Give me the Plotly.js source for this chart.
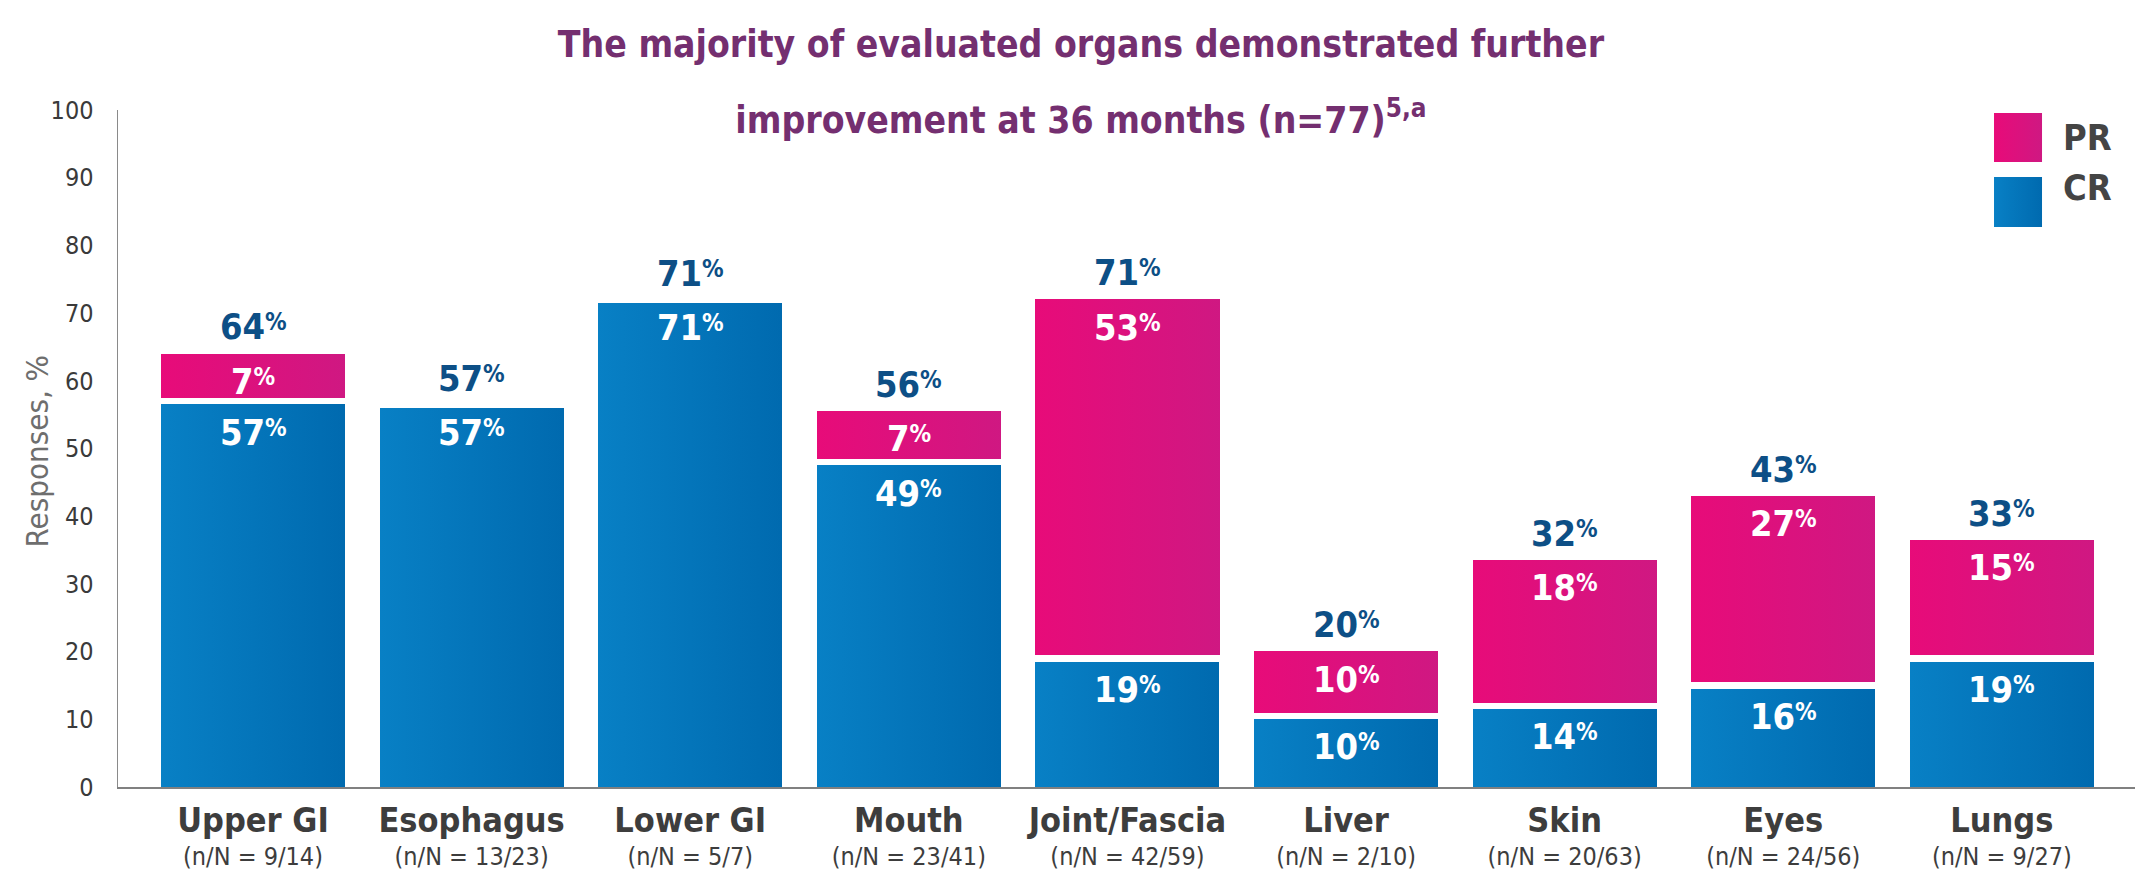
<!DOCTYPE html>
<html><head><meta charset="utf-8">
<script src="https://cdn.plot.ly/plotly-3.0.1.min.js"></script>
<style>html,body{margin:0;padding:0;background:#fff}</style>
</head><body><div id="chart" style="width:2135px;height:871px"></div>
<script>
// ---- data ----
const categories = ['Upper GI','Esophagus','Lower GI','Mouth','Joint/Fascia','Liver','Skin','Eyes','Lungs'];
const sampleSizes = ['(n/N = 9/14)','(n/N = 13/23)','(n/N = 5/7)','(n/N = 23/41)','(n/N = 42/59)','(n/N = 2/10)','(n/N = 20/63)','(n/N = 24/56)','(n/N = 9/27)'];
const crValues = [57, 56.5, 72, 48, 19, 10.5, 12, 15, 19];
const prValues = [7.5, 0, 0, 8, 53.5, 10, 22, 28.5, 18];
const crLabels = ['57','57','71','49','19','10','14','16','19'];
const prLabels = ['7','','','7','53','10','18','27','15'];
const totalLabels = ['64','57','71','56','71','20','32','43','33'];
const seriesNames = ['PR','CR'];
const yTicks = [0,10,20,30,40,50,60,70,80,90,100];

// ---- style ----
const FONT = "'Liberation Sans Narrow', 'Arial Narrow', 'DejaVu Sans Condensed', 'Roboto', sans-serif";
const CR_COLOR = '#0376BB';
const PR_COLOR = '#DD107D';
const TOTAL_COLOR = '#0D4F86';
const pct = n => n + "<span style='font-size:24px;baseline-shift:9px'>%</span>";

const traces = [
  {type:'bar', name:seriesNames[1], x:categories, y:crValues, width:0.842,
   marker:{color:CR_COLOR, line:{width:0}}, hoverinfo:'none'},
  {type:'bar', name:seriesNames[0], x:categories, y:prValues, width:0.872,
   marker:{color:PR_COLOR, line:{color:'#ffffff', width:6.5}}, hoverinfo:'none'}
];

const annotations = [];
categories.forEach((c, i) => {
  const hasPR = prValues[i] > 0;
  annotations.push({x:c, y:crValues[i], xref:'x', yref:'y', yanchor:'top', showarrow:false,
    yshift: hasPR ? -8.5 : -5, text:pct(crLabels[i]),
    font:{family:FONT, size:36, color:'#ffffff', weight:'bold'}});
  if (hasPR) {
    annotations.push({x:c, y:crValues[i] + prValues[i], xref:'x', yref:'y', yanchor:'top', showarrow:false,
      yshift:-8.5, text:pct(prLabels[i]),
      font:{family:FONT, size:36, color:'#ffffff', weight:'bold'}});
  }
  annotations.push({x:c, y:crValues[i] + prValues[i], xref:'x', yref:'y', yanchor:'bottom', showarrow:false,
    yshift: hasPR ? 1 : 4, text:pct(totalLabels[i]),
    font:{family:FONT, size:36, color:TOTAL_COLOR, weight:'bold'}});
});
// legend labels
annotations.push({xref:'paper', yref:'paper', x:0.9633, y:0.9594, xanchor:'left', yanchor:'middle', showarrow:false,
  text:seriesNames[0], font:{family:FONT, size:36, color:'#444444', weight:'bold'}});
annotations.push({xref:'paper', yref:'paper', x:0.9633, y:0.8848, xanchor:'left', yanchor:'middle', showarrow:false,
  text:seriesNames[1], font:{family:FONT, size:36, color:'#444444', weight:'bold'}});
// y-axis title
annotations.push({xref:'paper', yref:'paper', x:-0.0402, y:0.497, xanchor:'center', yanchor:'middle', showarrow:false,
  textangle:-90, text:'Responses, %', font:{family:FONT, size:31, color:'#6e6e6e'}});

const shapes = [
  {type:'rect', xref:'paper', yref:'paper', x0:0.9301, x1:0.9539, y0:0.9232, y1:0.9956, fillcolor:PR_COLOR, line:{width:0}},
  {type:'rect', xref:'paper', yref:'paper', x0:0.9301, x1:0.9539, y0:0.8272, y1:0.9010, fillcolor:CR_COLOR, line:{width:0}}
];

const tickText = categories.map((c, i) => "<b><span style='font-size:34px'>" + c + "</span></b><br>" + sampleSizes[i]);

const layout = {
  width:2135, height:871,
  margin:{l:118, r:0, t:110, b:84, pad:0},
  paper_bgcolor:'#ffffff', plot_bgcolor:'#ffffff',
  barmode:'stack', showlegend:false,
  title:{text:"<span style='font-size:37px'>The majority of evaluated organs demonstrated further</span><br><span style='font-size:37px'>improvement at 36 months (n=77)<sup>5,a</sup></span>",
    font:{family:FONT, size:58, color:'#742F70', weight:'bold'},
    x:0.5063, xanchor:'center', xref:'container', y:0.934, yanchor:'top', yref:'container'},
  xaxis:{type:'category', range:[-0.6176, 8.609], showline:true, linecolor:'#808080', linewidth:2,
    ticks:'', tickvals:categories, ticktext:tickText, showgrid:false, zeroline:false, ticklabelstandoff:13,
    tickfont:{family:FONT, size:25, color:'#3d3d3d'}, fixedrange:true},
  yaxis:{range:[0,100], tickvals:yTicks, showline:true, linecolor:'#8a8a8a', linewidth:1.5,
    ticks:'', showgrid:false, zeroline:false, ticklabelstandoff:18,
    tickfont:{family:FONT, size:25, color:'#3a3a3a'}, fixedrange:true},
  annotations:annotations, shapes:shapes
};

Plotly.newPlot('chart', traces, layout, {displayModeBar:false, staticPlot:true}).then(gd => {
  // subtle left-to-right gradient on the bars and legend swatches, as in the reference
  const svg = gd.querySelector('.main-svg');
  const NS = 'http://www.w3.org/2000/svg';
  let defs = svg.querySelector('defs');
  if (!defs) { defs = document.createElementNS(NS, 'defs'); svg.insertBefore(defs, svg.firstChild); }
  const mk = (id, c0, c1) => {
    const g = document.createElementNS(NS, 'linearGradient');
    g.setAttribute('id', id); g.setAttribute('x1', '0'); g.setAttribute('x2', '1'); g.setAttribute('y1', '0'); g.setAttribute('y2', '0');
    [[0, c0], [1, c1]].forEach(([o, c]) => {
      const s = document.createElementNS(NS, 'stop'); s.setAttribute('offset', o); s.setAttribute('stop-color', c); g.appendChild(s);
    });
    defs.appendChild(g);
  };
  mk('gradCR', '#0880C5', '#006AAF');
  mk('gradPR', '#E80B79', '#CF1882');
  const barTraces = gd.querySelectorAll('.barlayer .trace.bars');
  barTraces.forEach((t, k) => t.querySelectorAll('path').forEach(p => { p.style.fill = k === 0 ? 'url(#gradCR)' : 'url(#gradPR)'; }));
  gd.querySelectorAll('.layer-above .shapelayer path, .shapelayer path').forEach(p => {
    const f = p.style.fill || p.getAttribute('fill') || '';
    if (/221, 16, 125|dd107d/i.test(f)) p.style.fill = 'url(#gradPR)';
    else if (/3, 118, 187|0376bb/i.test(f)) p.style.fill = 'url(#gradCR)';
  });
});
</script>
</body></html>
